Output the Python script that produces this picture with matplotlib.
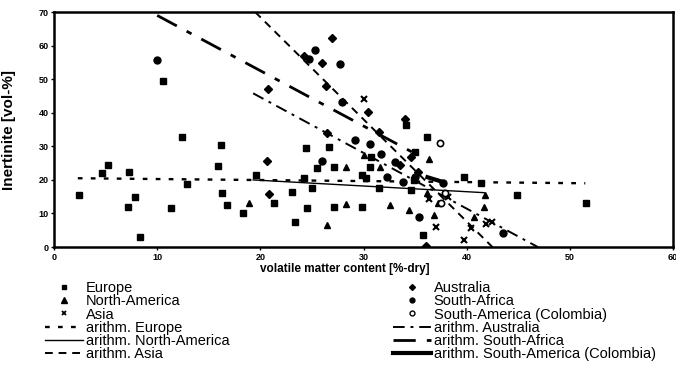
import numpy as np
import matplotlib
matplotlib.use("Agg")
import matplotlib.pyplot as plt
from matplotlib.lines import Line2D

plt.rcParams['font.family'] = ['Liberation Sans', 'DejaVu Sans']

# ---- data ----
eu_x = [2.4, 4.6, 5.2, 7.3, 7.8, 7.2, 8.3, 10.6, 11.3, 12.4, 12.9, 15.9, 16.2, 16.3, 16.8, 18.3,
        19.6, 21.3, 23.1, 23.4, 24.4, 24.2, 24.5, 25.0, 25.5, 26.7, 27.1, 27.1, 29.9, 30.7, 30.6,
        29.9, 30.2, 31.5, 34.1, 35.0, 34.6, 34.9, 36.2, 35.8, 39.7, 41.4, 44.9, 51.6]
eu_y = [15.5, 22.0, 24.4, 22.3, 14.9, 11.9, 3.0, 49.4, 11.6, 32.7, 18.8, 24.1, 30.4, 16.1, 12.5, 10.1,
        21.4, 13.1, 16.4, 7.4, 29.5, 20.5, 11.6, 17.6, 23.5, 29.8, 23.8, 11.9, 11.9, 26.8, 23.8,
        21.4, 20.5, 17.6, 36.3, 28.3, 17.0, 20.0, 32.7, 3.6, 20.8, 19.1, 15.5, 13.1]

na_x = [18.9, 26.5, 28.3, 28.3, 30.0, 31.6, 32.6, 34.4, 36.3, 36.2, 37.2, 36.8, 40.7, 41.8, 41.7]
na_y = [13.1, 6.5, 23.8, 12.8, 27.4, 23.8, 12.5, 11.0, 26.2, 16.1, 13.1, 9.5, 8.9, 15.5, 11.9]

as_x = [30.0, 38.2, 36.3, 37.0, 40.4, 39.7, 42.5, 41.9]
as_y = [44.0, 14.9, 14.2, 6.0, 5.7, 2.1, 7.4, 6.8]

au_x = [20.7, 26.4, 26.9, 24.2, 26.0, 20.6, 20.8, 26.5, 30.4, 31.5, 34.0, 34.6, 36.1, 33.5, 35.3]
au_y = [47.0, 47.9, 62.2, 56.8, 54.8, 25.6, 15.8, 33.9, 40.2, 34.2, 38.1, 26.8, 0.3, 24.5, 22.5]

sa_x = [10.0, 25.3, 24.7, 27.7, 27.9, 26.0, 29.2, 30.6, 31.7, 33.1, 32.3, 33.8, 37.7, 35.4, 43.5, 35.0]
sa_y = [55.7, 58.6, 55.9, 54.4, 43.2, 25.6, 31.8, 30.6, 27.7, 25.3, 20.8, 19.3, 19.0, 8.9, 4.2, 21.0]

co_x = [37.4, 37.5, 37.9]
co_y = [31.0, 13.1, 16.0]

# trend lines (end points)
tr_eu_x, tr_eu_y = [2.3, 51.5], [20.5, 19.0]
tr_na_x, tr_na_y = [19.3, 41.7], [20.0, 16.2]
tr_as_x, tr_as_y = [19.5, 42.5], [70.0, 0.0]
tr_au_x, tr_au_y = [19.3, 46.9], [45.8, 0.0]
tr_sa_x, tr_sa_y = [10.0, 35.5], [69.0, 27.0]
tr_co_x, tr_co_y = [36.2, 37.8], [20.8, 19.3]

fig = plt.figure(figsize=(6.76, 3.66), dpi=100)
ax = fig.add_axes([0.080, 0.325, 0.9155, 0.642])

lw = 1.4
ax.plot(tr_eu_x, tr_eu_y, color='k', lw=1.7, dashes=(2, 3.5))
ax.plot(tr_na_x, tr_na_y, color='k', lw=1.0)
ax.plot(tr_as_x, tr_as_y, color='k', lw=lw, dashes=(4, 3))
ax.plot(tr_au_x, tr_au_y, color='k', lw=lw, dashes=(6, 3, 1.5, 3))
ax.plot(tr_sa_x, tr_sa_y, color='k', lw=2.0, dashes=(8, 4, 2, 4))
ax.plot(tr_co_x, tr_co_y, color='k', lw=3)

ms = 4.5
ax.plot(eu_x, eu_y, 's', color='k', ms=ms)
ax.plot(na_x, na_y, '^', color='k', ms=ms + 0.5)
ax.plot(as_x, as_y, 'x', color='k', ms=ms, mew=1.5)
ax.plot(au_x, au_y, 'D', color='k', ms=ms - 0.5)
ax.plot(sa_x, sa_y, 'o', color='k', ms=ms + 0.5)
ax.plot(co_x, co_y, 'o', mfc='white', mec='k', ms=ms, mew=1.2)

ax.set_xlim(0, 60)
ax.set_ylim(0, 70)
ax.set_xticks(range(0, 61, 10))
ax.set_yticks(range(0, 71, 10))
ax.tick_params(labelsize=6.5, length=2, width=1, pad=2)
for lab in ax.get_xticklabels() + ax.get_yticklabels():
    lab.set_fontweight('bold')
for s in ax.spines.values():
    s.set_linewidth(1.8)

ax.set_ylabel("Inertinite [vol-%]", fontsize=11, fontweight='bold')
ax.yaxis.set_label_coords(-0.062, 0.5)
ax.set_xlabel("volatile matter content [%-dry]", fontsize=8.5, fontweight='bold')
ax.xaxis.set_label_coords(0.47, -0.07)

left_h = [
    Line2D([], [], ls='none', marker='s', color='k', ms=3.5),
    Line2D([], [], ls='none', marker='^', color='k', ms=4),
    Line2D([], [], ls='none', marker='x', color='k', ms=3.5, mew=1.3),
    Line2D([], [], color='k', lw=1.7, dashes=(2, 3.5)),
    Line2D([], [], color='k', lw=1.0),
    Line2D([], [], color='k', lw=lw, dashes=(4, 3)),
]
left_l = ["Europe", "North-America", "Asia", "arithm. Europe", "arithm. North-America", "arithm. Asia"]
right_h = [
    Line2D([], [], ls='none', marker='D', color='k', ms=3),
    Line2D([], [], ls='none', marker='o', color='k', ms=3.5),
    Line2D([], [], ls='none', marker='o', mfc='white', mec='k', ms=3.5, mew=1),
    Line2D([], [], color='k', lw=lw, dashes=(6, 3, 1.5, 3)),
    Line2D([], [], color='k', lw=2.0, dashes=(8, 4, 2, 4)),
    Line2D([], [], color='k', lw=3),
]
right_l = ["Australia", "South-Africa", "South-America (Colombia)", "arithm. Australia",
           "arithm. South-Africa", "arithm. South-America (Colombia)"]

kw = dict(loc='upper left', frameon=False, fontsize=10.5, labelspacing=-0.05,
          handlelength=2.6, handletextpad=0.2, borderpad=0, borderaxespad=0)
fig.legend(left_h, left_l, bbox_to_anchor=(45 / 676, 1 - 281 / 366), **kw)
fig.legend(right_h, right_l, bbox_to_anchor=(393 / 676, 1 - 281 / 366), **kw)

fig.savefig("out.png", dpi=100)
